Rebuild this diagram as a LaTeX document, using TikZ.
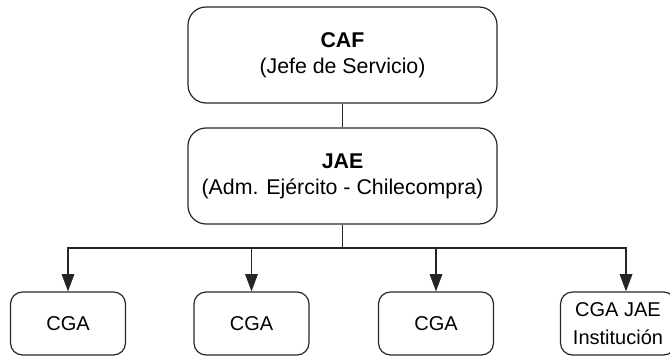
\documentclass[tikz,border=0pt]{standalone}
\usepackage{fontspec}
\setmainfont{Liberation Sans}
\usetikzlibrary{arrows.meta,positioning}

\begin{document}
\begin{tikzpicture}[
    x=0.75pt, y=-0.75pt,
    line width=0.9pt, draw=black!85,
    box/.style={draw, rounded corners=13.5pt, align=center, inner sep=0pt,
                minimum width=231.75pt, minimum height=72pt,
                font=\fontsize{16}{19.5}\selectfont},
    unit/.style={draw, rounded corners=9pt, align=center, inner sep=0pt,
                 minimum width=86.25pt, minimum height=47.25pt,
                 font=\fontsize{15}{21}\selectfont},
    arr/.style={-{Triangle[length=13pt, width=9.5pt]}},
  ]
  \useasboundingbox (0,0) rectangle (670,356);
  \clip (0,0) rectangle (670,356);

  \node[box] (caf) at (342.5,55) {\textbf{CAF}\\ (Jefe de Servicio)};
  \node[box] (jae) at (342.5,176) {\textbf{JAE}\\ (Adm. Ejército - Chilecompra)};

  \node[unit] (cga1) at (68,323.5) {CGA};
  \node[unit] (cga2) at (251.5,323.5) {CGA};
  \node[unit] (cga3) at (436,323.5) {CGA};
  \node[unit] (cga4) at (618,323.5) {CGA JAE\\ Institución};

  \coordinate (bus) at (342.5,248);
  \coordinate (in4) at ([xshift=6pt]cga4.north);

  \draw (caf) -- (jae);
  \draw (jae.south) -- (bus);
  \draw[arr] (bus) -| (cga1.north);
  \draw[arr] (bus) -| (cga2.north);
  \draw[arr] (bus) -| (cga3.north);
  \draw[arr] (bus) -| (in4);
\end{tikzpicture}
\end{document}
